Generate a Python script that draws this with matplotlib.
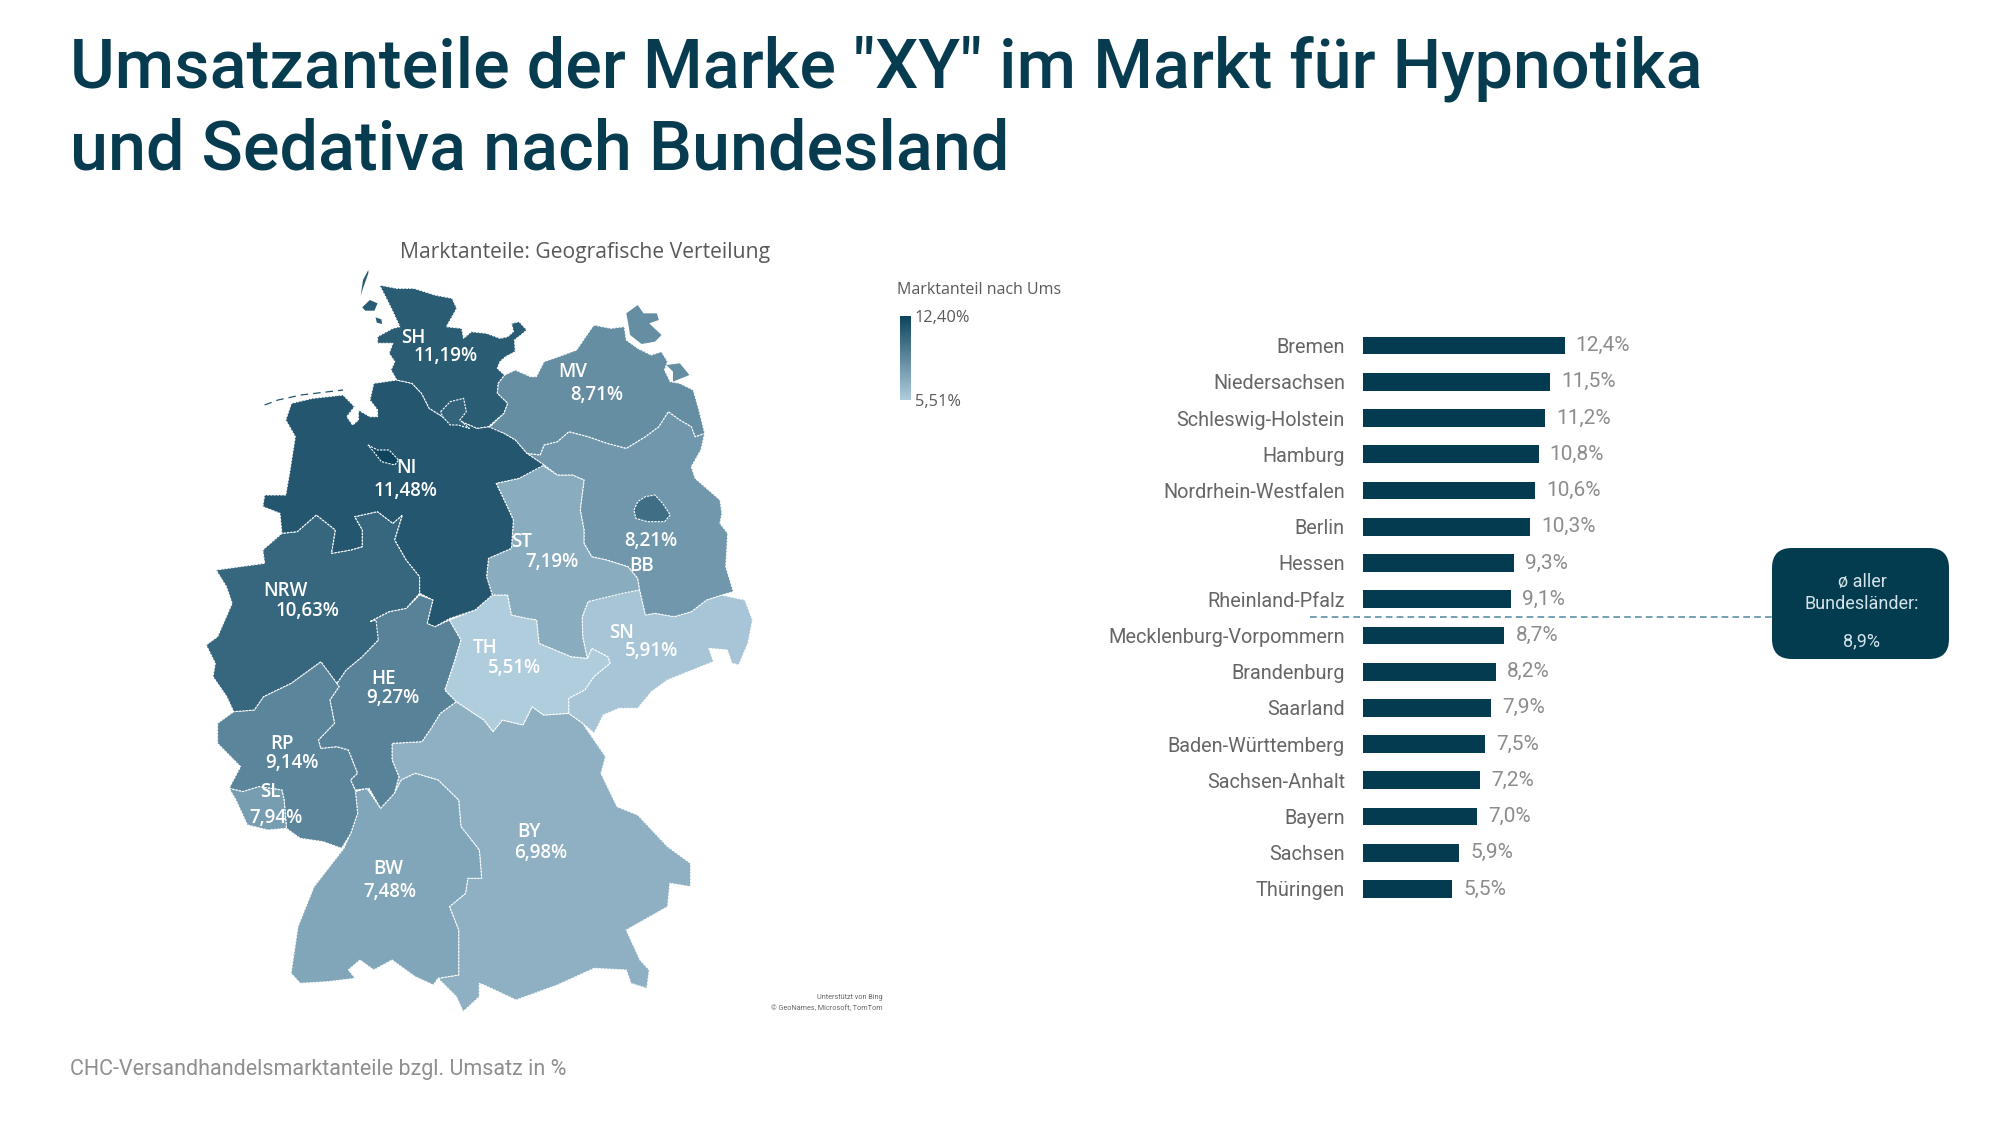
import matplotlib
matplotlib.use("Agg")
import numpy as np
import matplotlib.pyplot as plt
from matplotlib.colors import LinearSegmentedColormap, Normalize
from matplotlib.patches import Polygon, FancyBboxPatch, Rectangle

# ---------- data ----------
title_lines = ['Umsatzanteile der Marke "XY" im Markt für Hypnotika', 'und Sedativa nach Bundesland']
source_text = "CHC-Versandhandelsmarktanteile bzgl. Umsatz in %"
map_title = "Marktanteile: Geografische Verteilung"
legend_title = "Marktanteil nach Umsatz"
legend_max = 12.40
legend_min = 5.51

bar_names = ["Bremen", "Niedersachsen", "Schleswig-Holstein", "Hamburg", "Nordrhein-Westfalen", "Berlin",
             "Hessen", "Rheinland-Pfalz", "Mecklenburg-Vorpommern", "Brandenburg", "Saarland",
             "Baden-Württemberg", "Sachsen-Anhalt", "Bayern", "Sachsen", "Thüringen"]
bar_values = [12.4, 11.5, 11.2, 10.8, 10.6, 10.3, 9.3, 9.1, 8.7, 8.2, 7.9, 7.5, 7.2, 7.0, 5.9, 5.5]
average_value = 8.9

state_share = dict(SH=11.19, MV=8.71, NI=11.48, ST=7.19, BB=8.21, NRW=10.63, HE=9.27, TH=5.51,
                   SN=5.91, RP=9.14, SL=7.94, BY=6.98, BW=7.48, HB=12.40, HH=10.80, BE=10.30)

# state outlines
SH = [(495,195),(540,205),(585,205),(640,225),(685,235),(697,265),(685,290),(670,320),(710,325),(715,355),(735,335),(775,340),(810,355),(830,350),(845,335),(840,310),(860,305),(880,330),(865,345),(848,360),(850,395),(825,410),(810,425),(803,445),(822,465),(805,490),(803,520),(830,550),(820,580),(780,620),(750,625),(720,610),(700,600),(680,610),(660,590),(625,565),(605,520),(580,490),(540,480),(525,450),(535,425),(520,400),(530,370),(490,370),(490,350),(530,325),(548,320),(530,275),(515,240)]
HH = [(655,575),(680,545),(715,535),(722,575),(705,600),(730,625),(700,615),(680,615),(660,590)]
SH_islands = [[(466,150),(452,180),(446,228),(452,205),(466,160)],
              [(450,262),(470,240),(490,250),(482,272),(458,272)],
              [(485,292),(500,298),(502,312),(488,308)]]
MV = [(1055,315),(1100,325),(1135,320),(1140,360),(1170,385),(1205,405),(1232,395),(1248,425),(1240,450),(1255,485),(1280,490),(1315,510),(1330,570),(1345,640),(1320,650),(1310,620),(1280,600),(1250,575),(1225,620),(1190,650),(1140,685),(1090,670),(1040,650),(990,635),(960,665),(925,675),(915,705),(880,700),(850,660),(820,640),(780,625),(820,580),(830,550),(803,520),(805,490),(822,465),(850,450),(890,470),(905,470),(925,425),(975,405),(1010,390)]
MV_islands = [[(1140,280),(1170,255),(1185,280),(1220,280),(1225,300),(1200,310),(1232,345),(1215,365),(1180,372),(1150,345),(1145,310)],
              [(1245,435),(1280,430),(1305,465),(1262,485),(1262,455)]]
BB = [(1345,640),(1335,690),(1310,740),(1320,775),(1385,840),(1390,880),(1385,910),(1405,940),(1400,1040),(1420,1115),(1390,1125),(1350,1140),(1310,1175),(1265,1190),(1215,1180),(1190,1185),(1175,1110),(1170,1075),(1145,1040),(1090,1020),(1050,1010),(1030,970),(1030,930),(1020,870),(1030,780),(1000,765),(960,765),(925,735),(880,700),(915,705),(925,675),(960,665),(990,635),(1040,650),(1090,670),(1140,685),(1190,650),(1225,620),(1250,575),(1280,600),(1310,620),(1320,650)]
BE = [(1160,870),(1170,845),(1190,830),(1215,825),(1235,850),(1255,885),(1240,905),(1195,905),(1165,895)]
ST = [(800,790),(860,775),(920,735),(960,765),(1000,765),(1030,780),(1020,870),(1030,930),(1030,970),(1050,1010),(1090,1020),(1145,1040),(1170,1075),(1175,1110),(1130,1120),(1040,1145),(1025,1190),(1026,1250),(1038,1315),(996,1310),(912,1270),(906,1200),(880,1195),(840,1185),(830,1125),(790,1125),(775,1070),(780,1015),(840,985),(845,900),(825,850)]
NI = [(250,600),(265,550),(320,535),(400,525),(430,560),(410,590),(425,615),(440,600),(440,570),(470,590),(490,590),(490,570),(470,540),(480,490),(540,480),(580,490),(605,520),(625,565),(660,590),(680,610),(700,600),(720,610),(750,625),(780,620),(820,640),(850,660),(880,700),(925,735),(860,775),(800,790),(825,850),(845,900),(840,985),(780,1015),(775,1070),(790,1125),(745,1170),(680,1195),(640,1220),(620,1210),(635,1140),(600,1120),(600,1070),(565,1020),(535,960),(555,885),(530,910),(490,875),(430,890),(450,930),(450,980),(420,990),(370,1000),(380,930),(330,885),(280,935),(240,940),(235,880),(190,860),(195,825),(250,825),(260,760),(275,650)]
HB = [(465,675),(490,690),(520,690),(545,720),(535,735),(500,725),(480,695)]
NW = [(190,990),(240,940),(280,935),(330,885),(380,930),(370,1000),(420,990),(450,980),(450,930),(430,890),(490,875),(530,910),(555,885),(535,960),(565,1020),(600,1070),(600,1120),(565,1165),(520,1175),(470,1205),(486,1200),(492,1260),(450,1310),(408,1350),(384,1390),(342,1325),(264,1390),(192,1430),(168,1470),(114,1475),(96,1430),(60,1370),(66,1330),(42,1275),(72,1250),(110,1150),(95,1100),(68,1050),(130,1040),(195,1030)]
HE = [(470,1205),(520,1175),(565,1165),(600,1125),(635,1140),(620,1210),(640,1220),(678,1200),(708,1260),(690,1330),(666,1410),(696,1445),(654,1480),(630,1525),(606,1565),(528,1570),(528,1620),(546,1670),(534,1720),(498,1765),(468,1705),(432,1710),(420,1680),(438,1660),(414,1590),(384,1580),(342,1585),(336,1560),(378,1510),(366,1440),(390,1400),(384,1390),(408,1350),(450,1310),(492,1260)]
RP = [(114,1475),(168,1470),(192,1430),(264,1390),(342,1325),(384,1390),(390,1400),(366,1440),(378,1510),(336,1560),(342,1585),(384,1580),(414,1590),(438,1660),(420,1680),(432,1710),(438,1780),(420,1840),(396,1885),(348,1865),(288,1855),(252,1825),(246,1740),(240,1710),(180,1700),(138,1715),(102,1705),(132,1640),(72,1570),(72,1510)]
SL = [(102,1705),(138,1715),(180,1700),(240,1710),(246,1740),(252,1825),(204,1830),(150,1815),(120,1740)]
BW = [(432,1715),(462,1705),(498,1765),(534,1720),(552,1680),(588,1660),(648,1680),(702,1740),(708,1820),(756,1890),(762,1975),(726,1975),(720,2020),(678,2060),(702,2130),(702,2265),(648,2275),(636,2295),(588,2270),(528,2220),(480,2250),(444,2220),(414,2250),(432,2275),(360,2285),(288,2290),(264,2260),(282,2120),(324,2000),(402,1885),(420,1840),(438,1780)]
BY = [(696,1445),(768,1500),(792,1535),(816,1500),(870,1515),(894,1460),(924,1485),(990,1480),(1026,1510),(1056,1560),(1086,1610),(1074,1660),(1116,1760),(1170,1785),(1248,1880),(1308,1930),(1308,2000),(1254,1990),(1248,2060),(1140,2130),(1176,2220),(1200,2250),(1194,2305),(1152,2290),(1140,2250),(1056,2245),(960,2295),(852,2340),(768,2295),(756,2290),(756,2330),(714,2375),(696,2330),(648,2275),(702,2265),(702,2130),(678,2060),(720,2020),(726,1975),(762,1975),(756,1890),(708,1820),(702,1740),(648,1680),(588,1660),(552,1680),(534,1720),(546,1670),(528,1620),(528,1570),(606,1565),(630,1525),(654,1480)]
TH = [(678,1200),(745,1170),(790,1125),(830,1125),(840,1185),(906,1200),(912,1270),(996,1310),(1038,1315),(1050,1285),(1092,1310),(1098,1330),(1056,1370),(1032,1410),(990,1435),(990,1480),(924,1485),(894,1460),(870,1515),(816,1500),(792,1535),(768,1500),(696,1445),(666,1410),(690,1330),(708,1260)]
SN = [(1040,1145),(1110,1115),(1175,1110),(1190,1185),(1215,1180),(1265,1190),(1310,1175),(1350,1140),(1390,1125),(1450,1140),(1470,1200),(1458,1270),(1434,1335),(1416,1330),(1404,1290),(1356,1285),(1368,1325),(1248,1380),(1206,1415),(1170,1465),(1122,1465),(1080,1485),(1056,1540),(1026,1510),(990,1480),(990,1435),(1032,1410),(1056,1370),(1098,1330),(1092,1310),(1050,1285),(1038,1315),(1026,1250),(1025,1190)]
frisian_islands = [(195,555),(230,540),(290,525),(400,510)]

state_shapes = [("BY", BY), ("BW", BW), ("RP", RP), ("SL", SL), ("HE", HE), ("NRW", NW), ("TH", TH), ("SN", SN),
                ("ST", ST), ("BB", BB), ("MV", MV), ("NI", NI), ("SH", SH), ("HH", HH), ("HB", HB), ("BE", BE)]

# label, value text, anchor of code, anchor of value (reference px / 1568 scale)
map_codes = ["SH","MV","NI","ST","BB","NRW","HE","TH","SN","RP","SL","BY","BW"]
map_code_xy = [(324,265),(449,292),(319,367),(409,425),(503,444),(224,463),(301,532),(380,508),(487,496),(221,583),(212,621),(415,652),(304,681)]
map_val_xy = [(349,279),(468,310),(318,385),(433,441),(510,424),(241,479),(308,547),(403,524),(511,510),(229,598),(216,641),(424,669),(306,699)]
# ---------- drawing ----------
plt.rcParams['font.family'] = ['Roboto', 'DejaVu Sans']
fig = plt.figure(figsize=(20, 11.21), dpi=100, facecolor="white")
ov = fig.add_axes([0, 0, 1, 1]); ov.set_xlim(0, 2000); ov.set_ylim(1121, 0); ov.axis("off")

S = 2000 / 1568
def m2p(pts):
    a = np.asarray(pts, float)
    return np.c_[190 + a[:, 0] / 2.613, 220 + a[:, 1] / 3.0]

cmap = LinearSegmentedColormap.from_list("share", ["#b0cddd", "#0e445e"])
norm = Normalize(legend_min, legend_max)

for code, pts in state_shapes:
    ov.add_patch(Polygon(m2p(pts), closed=True, facecolor=cmap(norm(state_share[code])),
                         edgecolor="white", lw=0.8, ls=(0, (2, 1)), joinstyle="round"))
for isl in SH_islands:
    ov.add_patch(Polygon(m2p(isl), closed=True, facecolor=cmap(norm(state_share["SH"])), edgecolor="none"))
for isl in MV_islands:
    ov.add_patch(Polygon(m2p(isl), closed=True, facecolor=cmap(norm(state_share["MV"])), edgecolor="none"))
fi = m2p(frisian_islands)
ov.plot(fi[:, 0], fi[:, 1], color=cmap(norm(state_share["NI"])), lw=0.9, ls=(0, (6, 4)))

lab_font = dict(color="white", ha="center", va="center", fontsize=13.5, family=["Open Sans", "DejaVu Sans"], fontweight="semibold")
for code, cxy, vxy in zip(map_codes, map_code_xy, map_val_xy):
    ov.text(cxy[0] * S, cxy[1] * S, code, **lab_font)
    ov.text(vxy[0] * S, vxy[1] * S, f"{state_share[code]:.2f}%".replace(".", ","), **lab_font)

ov.text(458.5 * S, 198 * S, map_title, ha="center", va="center", fontsize=15.2, color="#595959",
        family=["Open Sans", "DejaVu Sans"], fontweight="medium")

# legend
t = ov.text(703 * S, 227 * S, legend_title, ha="left", va="center", fontsize=11.5, color="#595959",
            family=["Open Sans", "DejaVu Sans"])
t.set_clip_path(Rectangle((880, 260), 181, 60, transform=ov.transData))
t.set_clip_on(True)
ov.imshow(np.linspace(1, 0, 256)[:, None], cmap=cmap, aspect="auto", extent=(900, 911, 400, 316), zorder=2)
ov.set_xlim(0, 2000); ov.set_ylim(1121, 0)
for yy, val in ((249, legend_max), (315.5, legend_min)):
    ov.text(717 * S, yy * S, f"{val:.2f}%".replace(".", ","), ha="left", va="center", fontsize=11.8,
            color="#595959", family=["Open Sans", "DejaVu Sans"])
ov.text(692 * S, 782 * S, "Unterstützt von Bing", ha="right", va="center", fontsize=5.2, color="#666666")
ov.text(692 * S, 790.5 * S, "© GeoNames, Microsoft, TomTom", ha="right", va="center", fontsize=5.2, color="#666666")

# title and source
title_col = "#073c50"
ov.text(70, 69, title_lines[0], ha="left", va="center", fontsize=49.2, color=title_col, fontweight="medium")
ov.text(70, 150, title_lines[1], ha="left", va="center", fontsize=49.2, color=title_col, fontweight="medium")
ov.text(70, 1069, source_text, ha="left", va="center", fontsize=15.5, color="#8f8f8f", fontweight="normal")

# bar chart
px_top, px_bot = 327.5, 907.1
x0 = 1363
unit = 16.25
ax = fig.add_axes([x0 / 2000, 1 - px_bot / 1121, 15 * unit / 2000, (px_bot - px_top) / 1121])
ypos = np.arange(len(bar_values))
ax.barh(ypos, bar_values, height=0.49, color="#053b50")
ax.set_xlim(0, 15); ax.set_ylim(len(bar_values) - 0.5, -0.5)
ax.set_yticks(ypos); ax.set_yticklabels(bar_names, fontsize=14.3, color="#666666")
ax.set_xticks([])
ax.tick_params(axis="y", length=0, pad=13)
for sp in ax.spines.values():
    sp.set_visible(False)
ax.patch.set_alpha(0)
for y, v in zip(ypos, bar_values):
    ax.annotate(f"{v:.1f}%".replace(".", ","), (v, y), xytext=(8, 0), textcoords="offset points",
                va="center", ha="left", fontsize=15, color="#8c8c8c")

# average callout
ov.plot([1310, 1772], [617, 617], color="#5d8fa5", lw=1.2, ls=(0, (4, 2.5)))
ov.add_patch(FancyBboxPatch((1772 + 20, 548 + 20), 177 - 40, 111 - 40, boxstyle="round,pad=20,rounding_size=20",
                            facecolor="#033c4f", edgecolor="none", zorder=3))
for yy, s in ((582, "ø aller"), (604, "Bundesländer:"), (641, f"{average_value:.1f}%".replace(".", ","))):
    ov.text(1862, yy, s, ha="center", va="center", fontsize=13, color="#d5e3ea", zorder=4)

fig.savefig("out.png", dpi=100, facecolor="white")
